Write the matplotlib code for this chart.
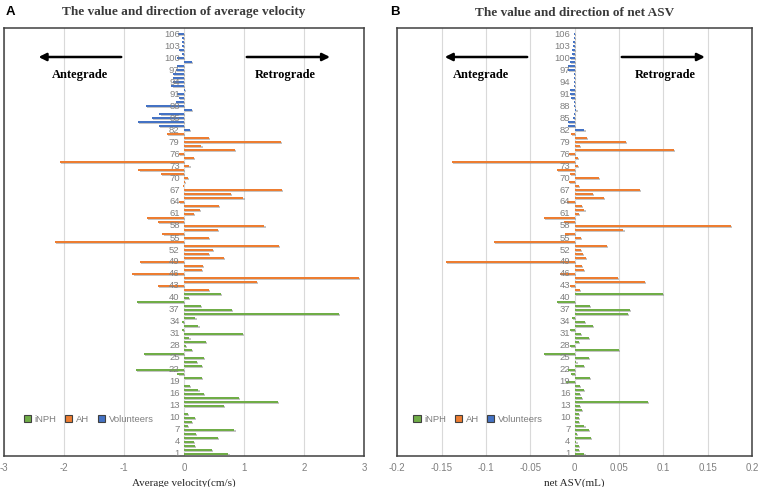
import matplotlib
matplotlib.use("Agg")
import matplotlib.pyplot as plt
from matplotlib.patches import Patch
import matplotlib.patheffects as pe
import numpy as np

# ---------------- data ----------------
groups = ["iNPH", "AH", "Volunteers"]
colors = {"iNPH": "#70AD47", "AH": "#ED7D31", "Volunteers": "#4472C4"}

# average velocity (cm/s)
vel_inph = [0.74, 0.47, 0.18, 0.17, 0.57, 0.20, 0.84, 0.07, 0.13, 0.18,
            0.07, 0.00, 0.67, 1.57, 0.92, 0.33, 0.24, 0.10, 0.00, 0.30,
            -0.11, -0.80, 0.30, 0.21, 0.33, -0.67, 0.13, 0.03, 0.36, 0.09,
            0.98, -0.03, 0.24, -0.03, 0.19, 2.58, 0.80, 0.28, -0.78, 0.08,
            0.61]
vel_ah = [0.42, -0.43, 1.22, 2.91, -0.86, 0.30, 0.31, -0.73, 0.66, 0.41,
          0.48, 1.58, -2.15, 0.41, -0.36, 0.56, 1.34, -0.43, -0.62, 0.17,
          0.27, 0.58, -0.09, 0.99, 0.78, 1.63, -0.01, 0.02, 0.07, -0.38,
          -0.76, 0.09, -2.07, 0.16, -0.09, 0.85, 0.29, 1.62, 0.41, -0.29]
vel_vol = [0.10, -0.42, -0.77, -0.53, -0.41, 0.13, -0.63, -0.13, -0.09, -0.12,
           0.02, -0.21, -0.19, -0.19, -0.18, -0.13, -0.11, 0.13, -0.12, -0.03,
           -0.08, -0.03, -0.03, -0.03, -0.10]

# net ASV (mL)
asv_inph = [0.011, 0.005, 0.005, 0.002, 0.018, 0.003, 0.016, 0.011, 0.005, 0.005,
            0.005, 0.008, 0.006, 0.083, 0.008, 0.006, 0.010, 0.006, -0.010, 0.017,
            -0.004, -0.007, 0.010, 0.002, 0.016, -0.035, 0.050, -0.005, 0.005, 0.016,
            0.007, -0.005, 0.021, 0.012, -0.003, 0.060, 0.062, 0.017, -0.020, 0.000,
            0.100]
asv_ah = [0.006, -0.005, 0.079, 0.049, -0.017, 0.010, 0.008, -0.145, 0.013, 0.009,
          0.007, 0.036, -0.091, 0.007, -0.011, 0.055, 0.176, -0.012, -0.035, 0.005,
          0.011, 0.008, -0.009, 0.033, 0.021, 0.074, 0.005, -0.006, 0.027, -0.005,
          -0.020, 0.004, -0.138, 0.004, -0.006, 0.112, 0.006, 0.058, 0.014, -0.004]
asv_vol = [0.011, -0.008, -0.008, -0.002, -0.001, 0.002, -0.001, -0.001, -0.004, -0.005,
           -0.005, -0.001, -0.001, -0.001, -0.001, -0.008, -0.007, -0.005, -0.005, -0.003,
           -0.003, -0.002, -0.002, -0.001, -0.001]

ytick_labels = list(range(1, 107, 3))

# ---------------- plotting ----------------
plt.rcParams['font.family'] = ['Liberation Sans', 'DejaVu Sans']
fig = plt.figure(figsize=(7.58, 4.87), dpi=100)

ax1 = fig.add_axes([4/758, 1-456/487, 360/758, 428/487])
ax2 = fig.add_axes([397.3/758, 1-456/487, 354.7/758, 428/487])

serif = ['Liberation Serif', 'DejaVu Serif']
grid_c = '#D9D9D9'
tick_c = '#7F7F7F'

def draw(ax, series, xlim, xticks, xticklabels, xlabel, title, letter, letter_x,
         arrow_l, arrow_r, txt_l, txt_r, legend_x):
    start = 1
    for g, vals in zip(groups, series):
        ys = np.arange(start, start + len(vals))
        bars = ax.barh(ys, vals, height=0.5, color=colors[g], zorder=3)
        for b in bars:
            b.set_path_effects([pe.SimplePatchShadow(offset=(0.8, -0.8), shadow_rgbFace='#808080', alpha=0.45),
                                pe.Normal()])
        start += len(vals)
    ax.set_xlim(*xlim)
    ax.set_ylim(0.5, 107.5)
    ax.set_xticks(xticks)
    ax.set_xticklabels(xticklabels, color=tick_c, fontsize=7)
    ax.tick_params(axis='x', length=0, pad=5)
    ax.set_yticks([])
    for x in xticks:
        ax.axvline(x, color=grid_c, lw=0.8, zorder=0)
    for y in ytick_labels:
        ax.text(-(xlim[1]-xlim[0])*0.012, y, str(y), ha='right', va='center',
                fontsize=6.8, color=tick_c, zorder=4)
    for s in ax.spines.values():
        s.set_color('#404040')
        s.set_linewidth(1.1)
    ax.set_xlabel(xlabel, family=serif, fontsize=8, color='#262626', labelpad=4)
    ax.set_title(title, family=serif, fontsize=9.5, fontweight='bold', color='#3A3A3A', pad=9)
    fig.text(letter_x, 1-12/487, letter, fontsize=9.5, fontweight='bold', va='center', ha='left')
    ax.annotate('', xy=(arrow_l[1], 100.25), xytext=(arrow_l[0], 100.25),
                arrowprops=dict(arrowstyle='-|>', color='black', lw=1.8, mutation_scale=11), zorder=5)
    ax.annotate('', xy=(arrow_r[1], 100.25), xytext=(arrow_r[0], 100.25),
                arrowprops=dict(arrowstyle='-|>', color='black', lw=1.8, mutation_scale=11), zorder=5)
    ax.text(txt_l, 95.75, 'Antegrade', family=serif, fontsize=9, fontweight='bold',
            ha='center', va='center', zorder=5)
    ax.text(txt_r, 95.75, 'Retrograde', family=serif, fontsize=9, fontweight='bold',
            ha='center', va='center', zorder=5)
    handles = [Patch(facecolor=colors[g], edgecolor='#404040', linewidth=0.8) for g in groups]
    ax.legend(handles, groups, ncol=3, loc='center left', bbox_to_anchor=(legend_x, 0.086),
              frameon=False, fontsize=6.8, labelcolor=tick_c, handlelength=0.75, handleheight=0.75,
              columnspacing=0.9, handletextpad=0.4, borderaxespad=0)

draw(ax1, [vel_inph, vel_ah, vel_vol], (-3, 3), [-3, -2, -1, 0, 1, 2, 3],
     ['-3', '-2', '-1', '0', '1', '2', '3'], 'Average velocity(cm/s)',
     'The value and direction of average velocity', 'A', 6/758,
     (-1.0, -2.47), (1.0, 2.48), -1.73, 1.68, 0.045)
draw(ax2, [asv_inph, asv_ah, asv_vol], (-0.2, 0.2),
     [-0.2, -0.15, -0.1, -0.05, 0, 0.05, 0.1, 0.15, 0.2],
     ['-0.2', '-0.15', '-0.1', '-0.05', '0', '0.05', '0.1', '0.15', '0.2'], 'net ASV(mL)',
     'The value and direction of net ASV', 'B', 390/758,
     (-0.0504, -0.1496), (0.050, 0.150), -0.106, 0.102, 0.035)

fig.savefig('out.png', dpi=100)
